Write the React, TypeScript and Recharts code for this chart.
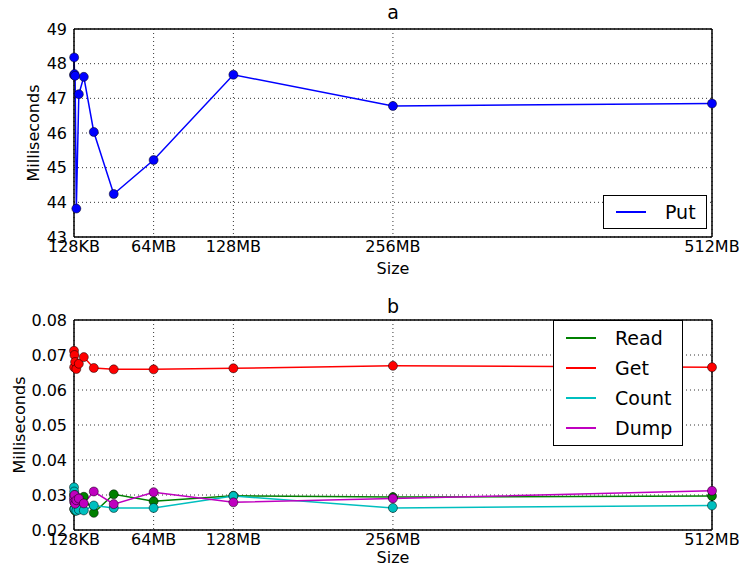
import React from 'react';
import {
  LineChart,
  Line,
  XAxis,
  YAxis,
  CartesianGrid,
  Legend,
  Label,
} from 'recharts';

// block sizes in MB (128KB .. 512MB)
const SIZES = [0.125, 0.25, 0.5, 1, 2, 4, 8, 16, 32, 64, 128, 256, 512];
const SIZE_TICKS = [0.125, 64, 128, 256, 512];

const PUT = [47.67, 48.18, 47.7, 47.65, 43.82, 47.12, 47.62, 46.03, 44.24, 45.22, 47.68, 46.78, 46.85];

const READ = [0.03, 0.026, 0.0285, 0.0255, 0.029, 0.029, 0.0295, 0.0249, 0.0302, 0.0282, 0.0298, 0.0294, 0.0297];
const GET = [0.0712, 0.0665, 0.07, 0.068, 0.066, 0.0675, 0.0694, 0.0663, 0.0659, 0.0659, 0.0662, 0.0669, 0.0665];
const COUNT = [0.0322, 0.031, 0.026, 0.03, 0.0255, 0.0258, 0.0256, 0.027, 0.0263, 0.0263, 0.0297, 0.0263, 0.0270];
const DUMP = [0.029, 0.028, 0.03, 0.0275, 0.0285, 0.029, 0.0276, 0.031, 0.0274, 0.0308, 0.0279, 0.029, 0.0312];

const PUT_TICKS = [43, 44, 45, 46, 47, 48, 49];
const MS_TICKS = [0.02, 0.03, 0.04, 0.05, 0.06, 0.07, 0.08];

const OPS_ORDER = ['Read', 'Get', 'Count', 'Dump'];

const putData = SIZES.map((size, i) => ({ size, put: PUT[i] }));
const opsData = SIZES.map((size, i) => ({
  size,
  read: READ[i],
  get: GET[i],
  count: COUNT[i],
  dump: DUMP[i],
}));

const FONT = 'DejaVu Sans, sans-serif';
const fmtSize = (v: number) => (v < 1 ? `${v * 1024}KB` : `${v}MB`);

const dotStyle = (color: string) => ({ r: 4.5, fill: color, stroke: '#000', strokeWidth: 0.5 });

const LegendBox = ({ payload, rowHeight, order }: any) => {
  const items = [...(payload || [])];
  if (order) items.sort((a: any, b: any) => order.indexOf(a.value) - order.indexOf(b.value));
  return (
    <div
      style={{
        border: '1.5px solid #000',
        background: '#fff',
        padding: '2px 10px 2px 12px',
        fontFamily: FONT,
        fontSize: 19,
        color: '#000',
      }}
    >
      {items.map((p: any) => (
        <div key={p.value} style={{ display: 'flex', alignItems: 'center', height: rowHeight }}>
          <span style={{ display: 'inline-block', width: 30, height: 0, borderTop: `2px solid ${p.color}`, marginRight: 19 }} />
          <span>{p.value}</span>
        </div>
      ))}
    </div>
  );
};

const tickStyle = { fill: '#000', fontSize: 16, fontFamily: FONT };
const labelStyle = { fontSize: 16, fill: '#000', fontFamily: FONT };
const frame = { stroke: '#000', strokeWidth: 1.5 };

export default function App() {
  return (
    <div style={{ position: 'absolute', left: 0, top: 0, width: 739, height: 568, background: '#fff', fontFamily: FONT }}>
      <div style={{ position: 'absolute', left: 343, width: 100, top: 1, textAlign: 'center', fontSize: 19 }}>a</div>
      <div style={{ position: 'absolute', left: 343, width: 100, top: 295, textAlign: 'center', fontSize: 19 }}>b</div>

      <div style={{ position: 'absolute', left: 0, top: 0 }}>
        <LineChart width={739} height={284} data={putData} margin={{ top: 28, right: 26, bottom: 0, left: 0 }}>
          <CartesianGrid stroke="#000" strokeDasharray="1 3" strokeWidth={0.8} />
          <XAxis
            dataKey="size"
            type="number"
            domain={[0.125, 512]}
            ticks={SIZE_TICKS}
            tickFormatter={fmtSize}
            height={47}
            tickLine={false}
            tickSize={0}
            tickMargin={4}
            axisLine={frame}
            tick={tickStyle}
            interval={0}
          >
            <Label value="Size" position="insideBottom" offset={10} style={labelStyle} />
          </XAxis>
          <XAxis xAxisId="top" orientation="top" type="number" dataKey="size" domain={[0.125, 512]} height={1} tick={false} tickLine={false} axisLine={frame} />
          <YAxis
            domain={[43, 49]}
            ticks={PUT_TICKS}
            width={74}
            tickLine={false}
            tickSize={0}
            tickMargin={7}
            axisLine={frame}
            tick={tickStyle}
            interval={0}
          >
            <Label value="Milliseconds" angle={-90} position="center" dx={-4} style={labelStyle} />
          </YAxis>
          <YAxis yAxisId="right" orientation="right" domain={[43, 49]} width={1} tick={false} tickLine={false} axisLine={frame} />
          <Legend
            layout="horizontal"
            verticalAlign="middle"
            align="center"
            wrapperStyle={{ position: 'absolute', left: 603, top: 195, width: 'auto' }}
            content={(props: any) => <LegendBox {...props} rowHeight={28} />}
          />
          <Line
            name="Put"
            dataKey="put"
            stroke="#0000ff"
            strokeWidth={1.5}
            dot={dotStyle('#0000ff')}
            activeDot={false}
            isAnimationActive={false}
          />
        </LineChart>
      </div>

      <div style={{ position: 'absolute', left: 0, top: 292 }}>
        <LineChart width={739} height={276} data={opsData} margin={{ top: 27, right: 26, bottom: 0, left: 0 }}>
          <CartesianGrid stroke="#000" strokeDasharray="1 3" strokeWidth={0.8} />
          <XAxis
            dataKey="size"
            type="number"
            domain={[0.125, 512]}
            ticks={SIZE_TICKS}
            tickFormatter={fmtSize}
            height={38}
            tickLine={false}
            tickSize={0}
            tickMargin={4}
            axisLine={frame}
            tick={tickStyle}
            interval={0}
          >
            <Label value="Size" position="insideBottom" offset={5} style={labelStyle} />
          </XAxis>
          <XAxis xAxisId="top" orientation="top" type="number" dataKey="size" domain={[0.125, 512]} height={1} tick={false} tickLine={false} axisLine={frame} />
          <YAxis
            domain={[0.02, 0.08]}
            ticks={MS_TICKS}
            tickFormatter={(v: number) => v.toFixed(2)}
            width={74}
            tickLine={false}
            tickSize={0}
            tickMargin={7}
            axisLine={frame}
            tick={tickStyle}
            interval={0}
          >
            <Label value="Milliseconds" angle={-90} position="center" dx={-18} style={labelStyle} />
          </YAxis>
          <YAxis yAxisId="right" orientation="right" domain={[0.02, 0.08]} width={1} tick={false} tickLine={false} axisLine={frame} />
          <Legend
            layout="horizontal"
            verticalAlign="middle"
            align="center"
            wrapperStyle={{ position: 'absolute', left: 553, top: 28, width: 'auto' }}
            content={(props: any) => <LegendBox {...props} rowHeight={30} order={OPS_ORDER} />}
          />
          <Line name="Read" dataKey="read" stroke="#008000" strokeWidth={1.5} dot={dotStyle('#008000')} activeDot={false} isAnimationActive={false} />
          <Line name="Get" dataKey="get" stroke="#ff0000" strokeWidth={1.5} dot={dotStyle('#ff0000')} activeDot={false} isAnimationActive={false} />
          <Line name="Count" dataKey="count" stroke="#00bfbf" strokeWidth={1.5} dot={dotStyle('#00bfbf')} activeDot={false} isAnimationActive={false} />
          <Line name="Dump" dataKey="dump" stroke="#bf00bf" strokeWidth={1.5} dot={dotStyle('#bf00bf')} activeDot={false} isAnimationActive={false} />
        </LineChart>
      </div>
    </div>
  );
}
